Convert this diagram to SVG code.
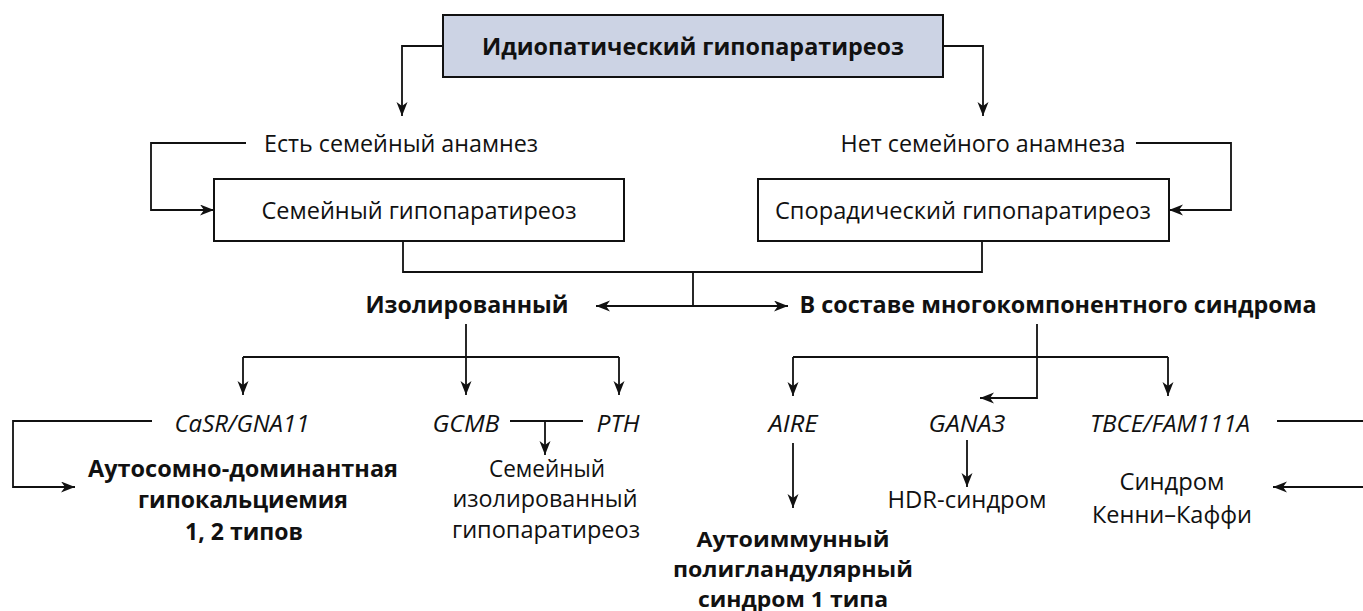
<svg xmlns="http://www.w3.org/2000/svg" width="1363" height="611" viewBox="0 0 1363 611">
<style>
text{font-family:"Open Sans","Liberation Sans",sans-serif;font-size:23px;fill:#111;text-anchor:middle}
.b{font-weight:bold}
.i{font-style:italic}
.t{font-size:24px;font-weight:bold}
.s{font-size:21.5px}
.box{fill:#fff;stroke:#111;stroke-width:2}
.top{fill:#ccd3e4;stroke:#111;stroke-width:2}
.c path{fill:none;stroke:#111;stroke-width:1.8}
.c path.a{marker-end:url(#ah)}
</style>
<defs>
<marker id="ah" markerUnits="userSpaceOnUse" markerWidth="16" markerHeight="12" refX="14" refY="5.5" orient="auto">
<path d="M0,0 L14,5.5 L0,11 L4,5.5 z" fill="#111"/>
</marker>
</defs>
<rect width="1363" height="611" fill="#fff"/>
<g class="c" id="connectors">
<path class="a" d="M443,46 H402 V116"/>
<path class="a" d="M943,46 H983 V116"/>
<path class="a" d="M246,143 H151 V210 H214"/>
<path class="a" d="M1136,143 H1231 V210 H1169"/>
<path d="M403,241 V272 H982 V241"/>
<path d="M693,272 V306"/>
<path class="a" d="M693,306 H596"/>
<path class="a" d="M693,306 H788"/>
<path class="a" d="M466,324 V395"/>
<path d="M243,357 H619"/>
<path class="a" d="M243,357 V395"/>
<path class="a" d="M619,357 V395"/>
<path class="a" d="M152,421 H13 V487 H75"/>
<path d="M510,421 H583"/>
<path class="a" d="M545,421 V455"/>
<path class="a" d="M1037,324 V398 H980"/>
<path d="M793,357 H1168"/>
<path class="a" d="M793,357 V396"/>
<path class="a" d="M1168,357 V396"/>
<path class="a" d="M793,443 V508"/>
<path class="a" d="M967,440 V487"/>
<path d="M1277,421 H1363"/>
<path class="a" d="M1363,487 H1273"/>
</g>
<g id="n-root"><rect class="top" x="443" y="15" width="500" height="62"/><text class="t" x="693" y="55" textLength="422" lengthAdjust="spacingAndGlyphs">Идиопатический гипопаратиреоз</text></g>
<g id="n-yes"><text x="401" y="152" textLength="274" lengthAdjust="spacingAndGlyphs">Есть семейный анамнез</text></g>
<g id="n-no"><text x="983" y="152" textLength="285" lengthAdjust="spacingAndGlyphs">Нет семейного анамнеза</text></g>
<g id="n-fam"><rect class="box" x="214" y="179" width="410" height="62"/><text x="419" y="219" textLength="315" lengthAdjust="spacingAndGlyphs">Семейный гипопаратиреоз</text></g>
<g id="n-spor"><rect class="box" x="758" y="179" width="411" height="62"/><text x="963" y="219" textLength="376" lengthAdjust="spacingAndGlyphs">Спорадический гипопаратиреоз</text></g>
<g id="n-iso"><text class="b" x="467" y="313" textLength="203" lengthAdjust="spacingAndGlyphs">Изолированный</text></g>
<g id="n-multi"><text class="b" x="1058" y="313" textLength="517" lengthAdjust="spacingAndGlyphs">В составе многокомпонентного синдрома</text></g>
<g id="n-casr"><text class="i" x="242" y="432" textLength="135" lengthAdjust="spacingAndGlyphs">CaSR/GNA11</text></g>
<g id="n-gcmb"><text class="i" x="466" y="432" textLength="67" lengthAdjust="spacingAndGlyphs">GCMB</text></g>
<g id="n-pth"><text class="i" x="618" y="432" textLength="43" lengthAdjust="spacingAndGlyphs">PTH</text></g>
<g id="n-aire"><text class="i" x="793" y="432" textLength="49" lengthAdjust="spacingAndGlyphs">AIRE</text></g>
<g id="n-gana3"><text class="i" x="967" y="432" textLength="77" lengthAdjust="spacingAndGlyphs">GANA3</text></g>
<g id="n-tbce"><text class="i" x="1170" y="432" textLength="160" lengthAdjust="spacingAndGlyphs">TBCE/FAM111A</text></g>
<g id="n-adh"><text class="b" x="243" y="477" textLength="310" lengthAdjust="spacingAndGlyphs">Аутосомно-доминантная</text><text class="b" x="243" y="508" textLength="210" lengthAdjust="spacingAndGlyphs">гипокальциемия</text><text class="b" x="244" y="540" textLength="118" lengthAdjust="spacingAndGlyphs">1, 2 типов</text></g>
<g id="n-fih"><text x="547" y="477" textLength="116" lengthAdjust="spacingAndGlyphs">Семейный</text><text x="545" y="507" textLength="185" lengthAdjust="spacingAndGlyphs">изолированный</text><text x="546" y="538" textLength="188" lengthAdjust="spacingAndGlyphs">гипопаратиреоз</text></g>
<g id="n-aps"><text class="b s" x="793" y="547" textLength="193" lengthAdjust="spacingAndGlyphs">Аутоиммунный</text><text class="b s" x="793" y="577" textLength="240" lengthAdjust="spacingAndGlyphs">полигландулярный</text><text class="b s" x="793" y="607" textLength="190" lengthAdjust="spacingAndGlyphs">синдром 1 типа</text></g>
<g id="n-hdr"><text x="967" y="508" textLength="159" lengthAdjust="spacingAndGlyphs">HDR-синдром</text></g>
<g id="n-kenny"><text x="1172" y="490" textLength="105" lengthAdjust="spacingAndGlyphs">Синдром</text><text x="1172" y="523" textLength="160" lengthAdjust="spacingAndGlyphs">Кенни–Каффи</text></g>
</svg>
